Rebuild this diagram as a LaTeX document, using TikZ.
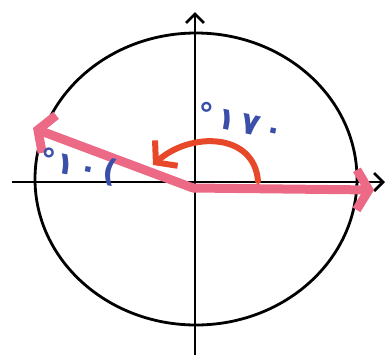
\documentclass[tikz,border=0pt]{standalone}
\usepackage{fontspec}
\newfontfamily\digitfont{DejaVu Sans}
\usetikzlibrary{arrows.meta}
\definecolor{raypink}{HTML}{EC6A86}
\definecolor{arcred}{HTML}{E8482A}
\definecolor{inkblue}{HTML}{3B4FA8}
\begin{document}
\begin{tikzpicture}[x=1pt,y=-1pt,
  axisline/.style={line width=2.8pt,black,-{Straight Barb[length=9pt,width=18pt]}},
  pinkray/.style={line width=9pt,raypink,line cap=round,-{Straight Barb[length=12pt,width=40pt]}},
  redarc/.style={line width=6pt,arcred,line cap=round,-{Straight Barb[length=14pt,width=34pt]}},
  anglelabel/.style={inkblue,font=\digitfont\bfseries\fontsize{31}{31}\selectfont,inner sep=0pt}]
\useasboundingbox (0,0) rectangle (390,360);
\draw[line width=2.8pt] (196,179) ellipse [x radius=161, y radius=146];
\coordinate (xl) at (12,182);
\coordinate (xr) at (385,182);
\coordinate (yb) at (195,355);
\coordinate (yt) at (195,12);
\draw[axisline] (xl) -- (xr);
\draw[axisline] (yb) -- (yt);
\coordinate (O) at (193,188);
\coordinate (Pr) at (374,190);
\coordinate (Pl) at (33,128);
\draw[pinkray] (O) -- (Pr);
\draw[pinkray] (O) -- (Pl);
\coordinate (As) at (258,181);
\coordinate (Ae) at (153,165);
\draw[redarc] (As) .. controls (254,132) and (190,132) .. (Ae);
\node[anglelabel,rotate=-12] (l170) at (241,121) {°\,١\,٧\,٠};
\node[anglelabel,rotate=-10] (l10) at (79,167) {°١\,٠\,(};
\end{tikzpicture}
\end{document}
